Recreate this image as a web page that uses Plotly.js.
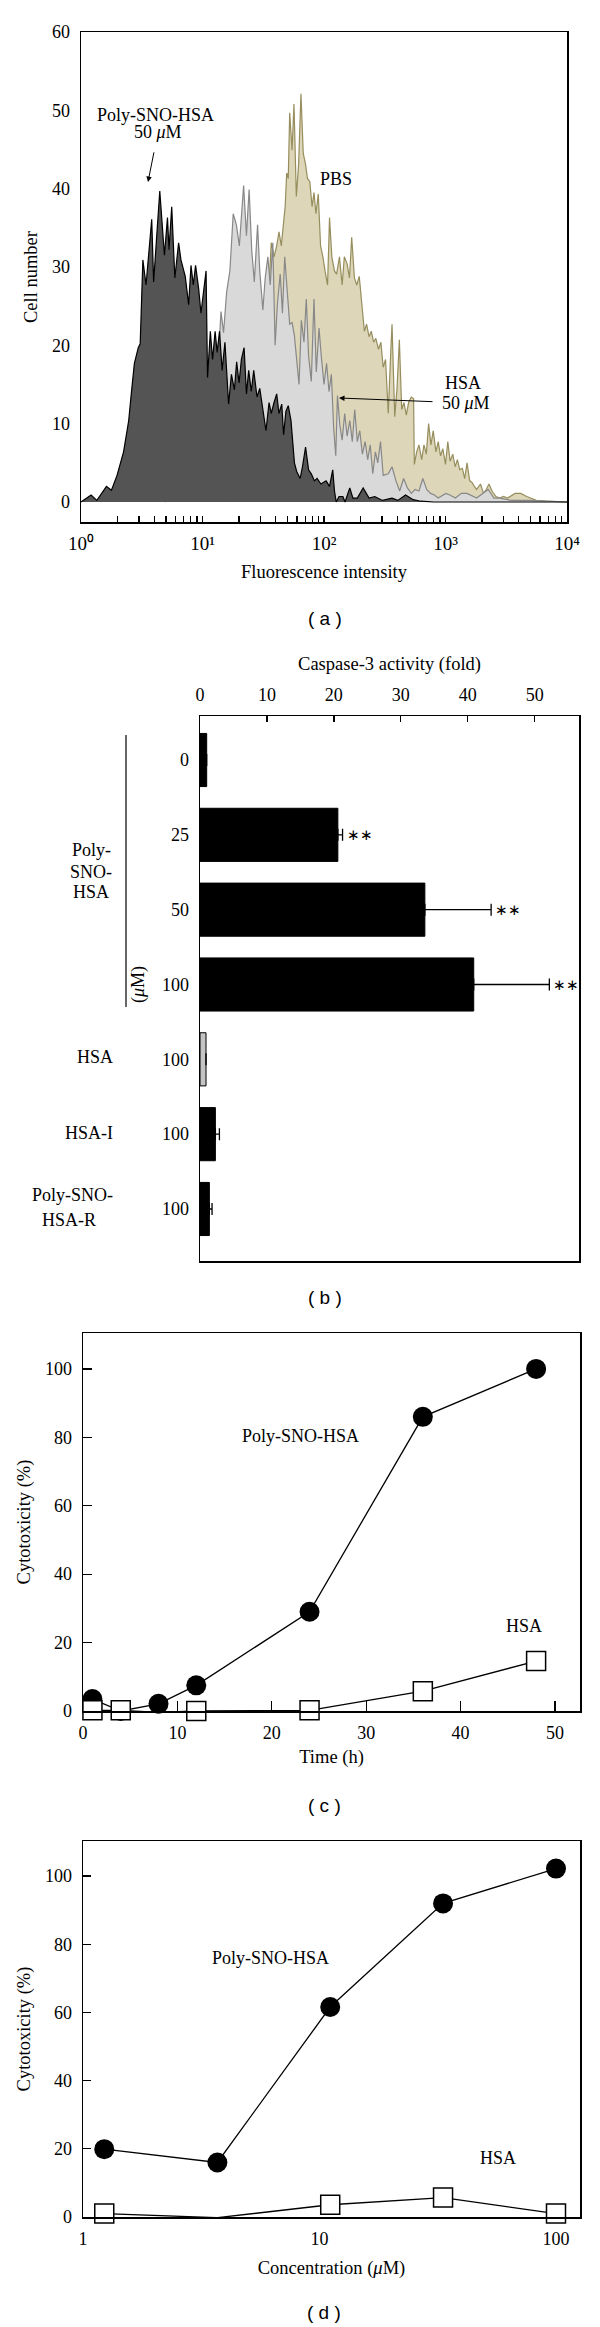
<!DOCTYPE html>
<html><head><meta charset="utf-8">
<script src="https://cdn.plot.ly/plotly-3.0.1.min.js"></script>
<style>html,body{margin:0;padding:0;background:#fff}</style>
</head><body>
<div id="chart" style="width:600px;height:2327px"></div>
<script>
// ---------- Panel (a): flow cytometry histograms ----------
const polyX = [
1.0, 1.21, 1.35, 1.62, 1.78, 1.98, 2.24, 2.47, 2.60, 2.75,
2.96, 3.07, 3.23, 3.43, 3.82, 3.96, 4.45, 4.86, 5.15, 5.30,
5.58, 5.92, 6.36, 6.65, 7.21, 7.69, 8.04, 8.40, 8.77, 9.30,
9.71, 10.7, 11.0, 11.6, 12.1, 12.7, 13.2, 13.8, 14.5, 15.3,
16.4, 17.3, 18.3, 19.1, 20.0, 20.9, 22.0, 23.0, 24.0, 25.2,
26.4, 28.1, 29.6, 31.6, 33.3, 35.3, 36.8, 38.8, 40.8, 42.6,
44.9, 46.5, 48.6, 50.8, 53.5, 57.1, 59.6, 63.6, 66.5, 70.5,
74.7, 78.6, 83.3, 87.7, 94.3, 104, 111, 118, 122, 126,
133, 143, 149, 163, 173, 188, 210, 235, 262, 303,
363, 405, 469, 542, 627, 800, 10000];
const polyY = [
0, 0.9, 0.2, 2, 1.5, 3.4, 6.4, 10.4, 14, 17.7,
19.7, 20.2, 30.9, 27.7, 36.1, 28.1, 39.7, 31.5, 36.3, 32.2,
37.7, 28.6, 33.1, 30.9, 28.8, 25.2, 30.2, 27.7, 30.2, 27.2,
24.1, 29.5, 15.9, 21.8, 18.2, 21.8, 19.1, 21.8, 16.8, 20.4,
12.5, 16.3, 14.3, 17.9, 15.2, 18.2, 19.7, 13.8, 16.8, 14.1,
16.8, 13.4, 14.5, 11.8, 9.1, 12.7, 11.3, 12.7, 13.8, 11.3,
12.5, 8.6, 11.6, 12.3, 10.4, 5, 3.9, 3, 4.5, 7,
4.1, 3.6, 2.7, 3, 2.3, 2.7, 2, 4.1, 1.4, 0,
0.7, 0.7, 0, 1.8, 0.5, 0.5, 1.8, 0.5, 0.7, 0.2,
0.5, 0.2, 0.9, 0.3, 0.1, 0, 0];

const hsaX = [
4.93, 8.22, 12.3, 13.7, 14.2, 14.9, 15.8, 16.8, 17.9, 19.0,
20.1, 20.9, 21.8, 23.0, 24.2, 25.4, 26.7, 28.4, 29.6, 31.4,
32.8, 34.5, 36.1, 37.9, 39.6, 41.4, 43.6, 45.5, 47.5, 50.0,
52.2, 54.6, 57.0, 59.2, 62.3, 65.1, 68.4, 71.5, 74.7, 78.6,
82.7, 86.4, 91.0, 95.0, 100, 105, 110, 115, 120, 125,
129, 135, 141, 148, 155, 163, 171, 179, 188, 197,
207, 218, 229, 240, 252, 265, 277, 292, 307, 338,
363, 391, 420, 452, 486, 523, 562, 605, 651, 700,
753, 810, 871, 1007, 1084, 1209, 1349, 1504, 1803, 2244,
2504, 2793, 3475, 5003, 6693, 10000];
const hsaY = [
0, 3, 12, 20, 24.3, 21.6, 26.8, 29.5, 36.8, 35.4,
32.7, 36.3, 40.4, 34, 39.9, 32.2, 28.1, 35.4, 29.5, 24.5,
28.6, 31.3, 27.7, 33.1, 20, 25.4, 29.1, 24.1, 31.3, 26.6,
22.7, 22.9, 21.3, 18.6, 15, 23.2, 20.4, 25.9, 18.6, 15.4,
25.9, 16.6, 22.2, 18.6, 15, 17.7, 14.1, 16.3, 9.5, 5.9,
13.6, 9.8, 7.9, 11.3, 8.4, 10.4, 7.7, 11.8, 7.7, 9.1,
6.1, 7.7, 5.4, 7.3, 3.6, 6.4, 5, 7.7, 3.4, 3.6,
4.5, 2.7, 1.4, 3, 1.8, 1.1, 1.6, 1.4, 3, 1.6,
1.1, 0.9, 0.5, 1.1, 0.9, 0.5, 1.1, 1.1, 0.5, 1.6,
0.5, 0.5, 0.2, 0.2, 0.1, 0];

const pbsX = [
17.0, 24.5, 30.5, 35.3, 36.8, 38.8, 40.8, 42.6, 44.5, 46.2,
47.9, 49.3, 50.8, 52.2, 54.6, 56.6, 59.2, 61.8, 64.6, 67.5,
70.5, 73.1, 76.4, 79.8, 82.7, 85.8, 89.7, 93.7, 97.9, 102,
107, 111, 116, 122, 127, 134, 141, 147, 155, 162,
169, 178, 186, 195, 204, 215, 224, 235, 245, 256,
267, 281, 294, 307, 321, 338, 353, 363, 382, 399,
417, 436, 455, 476, 497, 523, 546, 554, 579, 605,
637, 665, 695, 726, 759, 793, 834, 871, 910, 951,
1000, 1045, 1091, 1148, 1200, 1254, 1310, 1377, 1439, 1504,
1582, 1653, 1727, 1803, 1941, 2056, 2164, 2278, 2415, 2600,
2793, 3006, 3228, 3741, 4171, 4653, 5585, 6693, 10000];
const pbsY = [
0, 8, 20, 27.7, 33.1, 31.3, 32.7, 34.5, 32.7, 35,
37.7, 42, 41.3, 49.7, 44.9, 50.8, 39, 43.1, 52.1, 44.5,
43.1, 41.3, 40.9, 37.7, 39.5, 36.8, 39.3, 32.7, 31.3, 29.5,
27.7, 36.3, 31.3, 29.5, 29.1, 31.3, 27.7, 31.3, 30.4, 28.6,
33.8, 28.6, 27.7, 28.8, 25.9, 21.8, 22.7, 21.1, 21.8, 20.4,
20.9, 19.5, 20.4, 17.2, 18.2, 11.3, 18.6, 22.7, 10.9, 14.5,
20.7, 11.8, 12.7, 11.1, 12.7, 13.4, 13.2, 4.8, 6.4, 7.3,
5.4, 7.3, 6.1, 10, 7.3, 9.1, 6.4, 7.7, 5.9, 6.8,
4.8, 7.7, 5.2, 6.1, 4.5, 5.4, 4.1, 4.3, 3, 5,
2.7, 2.5, 2, 1.6, 2.3, 1.1, 1.6, 2.3, 1.4, 0.7,
0.5, 0.7, 0.5, 1.1, 1.1, 0.7, 0.2, 0.1, 0];

const aTickVals = [1, 10, 100, 1000, 10000];
const aTickText = ['10⁰', '10¹', '10²', '10³', '10⁴'];
const aMinorVals = [2,3,4,5,6,7,8,9, 20,30,40,50,60,70,80,90, 200,300,400,500,600,700,800,900, 2000,3000,4000,5000,6000,7000,8000,9000];

// ---------- Panel (b): caspase-3 activity ----------
const bGroups = ['Poly-SNO-HSA', 'Poly-SNO-HSA', 'Poly-SNO-HSA', 'Poly-SNO-HSA', 'HSA', 'HSA-I', 'Poly-SNO-HSA-R'];
const bConc = ['0', '25', '50', '100', '100', '100', '100'];
const bFold = [1.0, 20.6, 33.6, 40.9, 0.9, 2.3, 1.4];
const bErr = [null, 0.7, 9.9, 11.3, null, 0.6, 0.4];
const bSig = ['', '**', '**', '**', '', '', ''];

// ---------- Panel (c): cytotoxicity vs time ----------
const cTime = [1, 4, 8, 12, 24, 36, 48];
const cPoly = [3.5, 0, 2.1, 7.5, 29, 86, 100];
const cHsa = [0.2, 0.2, -0.4, 0, 0.2, 5.8, 14.6];

// ---------- Panel (d): cytotoxicity vs concentration ----------
const dConc = [1.23, 3.7, 11.1, 33.3, 100];
const dPoly = [19.9, 16.0, 61.6, 92, 102.2];
const dHsa = [1.0, -0.2, 3.6, 5.7, 1.0];

// ---------- styling helpers ----------
const SERIF = 'Liberation Serif, Times New Roman, serif';
const SANS = 'Liberation Sans, Arial, sans-serif';
const H = 2327, W = 600;
const px = v => v / W;
const py = v => 1 - v / H;

const bIds = bGroups.map((g, i) => g + ' ' + bConc[i]);
const bColors = bGroups.map(g => g === 'HSA' ? '#c4c4c4' : '#000000');

const traces = [
  {x: pbsX, y: pbsY, xaxis: 'x', yaxis: 'y', type: 'scatter', mode: 'lines', fill: 'tozeroy',
   fillcolor: '#ddd6b8', line: {color: '#978e5e', width: 1.2}, name: 'PBS'},
  {x: hsaX, y: hsaY, xaxis: 'x', yaxis: 'y', type: 'scatter', mode: 'lines', fill: 'tozeroy',
   fillcolor: '#d9d9d9', line: {color: '#888888', width: 1.2}, name: 'HSA 50 μM'},
  {x: polyX, y: polyY, xaxis: 'x', yaxis: 'y', type: 'scatter', mode: 'lines', fill: 'tozeroy',
   fillcolor: '#545454', line: {color: '#000000', width: 1.2}, name: 'Poly-SNO-HSA 50 μM'},
  {x: bFold, y: bIds, xaxis: 'x2', yaxis: 'y2', type: 'bar', orientation: 'h', width: 0.71,
   marker: {color: bColors, line: {color: '#000', width: 1}},
   error_x: {type: 'data', array: bErr, arrayminus: bErr.map(() => 0), symmetric: false,
             color: '#000', thickness: 1.3, width: 6}},
  {x: cTime, y: cPoly, xaxis: 'x3', yaxis: 'y3', type: 'scatter', mode: 'lines+markers', cliponaxis: false,
   line: {color: '#000', width: 1.3}, marker: {symbol: 'circle', size: 20, color: '#000'}, name: 'Poly-SNO-HSA'},
  {x: cTime, y: cHsa, xaxis: 'x3', yaxis: 'y3', type: 'scatter', mode: 'lines+markers', cliponaxis: false,
   line: {color: '#000', width: 1.3}, marker: {symbol: 'square', size: 19, color: '#fff', line: {color: '#000', width: 1.5}}, name: 'HSA'},
  {x: dConc, y: dPoly, xaxis: 'x4', yaxis: 'y4', type: 'scatter', mode: 'lines+markers', cliponaxis: false,
   line: {color: '#000', width: 1.3}, marker: {symbol: 'circle', size: 20, color: '#000'}, name: 'Poly-SNO-HSA'},
  {x: dConc, y: dHsa, xaxis: 'x4', yaxis: 'y4', type: 'scatter', mode: 'lines+markers', cliponaxis: false,
   line: {color: '#000', width: 1.3}, marker: {symbol: 'square', size: 19, color: '#fff', line: {color: '#000', width: 1.5}}, name: 'HSA'}
];

const axBase = {showline: true, linecolor: '#000', linewidth: 1.5, mirror: true, showgrid: false, zeroline: false,
  tickcolor: '#000', tickwidth: 1.3, tickfont: {family: SERIF, size: 18, color: '#000'}, fixedrange: true};
function ax(o) { return Object.assign({}, axBase, o); }
const tfont = {family: SERIF, size: 18.5, color: '#000'};

const layout = {
  width: W, height: H, margin: {l: 0, r: 0, t: 0, b: 0},
  paper_bgcolor: '#fff', plot_bgcolor: '#fff', showlegend: false,
  font: {family: SERIF, size: 18, color: '#000'},
  // panel a
  xaxis: ax({domain: [px(81), px(567)], anchor: 'y', type: 'log', range: [0, 4],
    tickmode: 'array', tickvals: aTickVals, ticktext: aTickText, ticks: 'inside', ticklen: 6,
    minor: {tickmode: 'array', tickvals: aMinorVals, ticks: 'inside', ticklen: 6, tickwidth: 1.3, tickcolor: '#000', showgrid: false},
    ticklabelstandoff: 4, tickfont: {family: SERIF, size: 19, color: '#000'},
    title: {text: 'Fluorescence intensity', font: tfont, standoff: 12}}),
  yaxis: ax({domain: [py(522), py(32)], anchor: 'x', range: [-2.553, 60], tickvals: [0,10,20,30,40,50,60], ticks: '',
    ticklabelstandoff: 6,
    title: {text: 'Cell number', font: tfont, standoff: 9}}),
  // panel b
  xaxis2: ax({domain: [px(200), px(579)], anchor: 'y2', side: 'top', range: [0, 56.63],
    tickvals: [0,10,20,30,40,50], ticks: 'inside', ticklen: 6, ticklabelstandoff: 6,
    title: {text: 'Caspase-3 activity (fold)', font: tfont, standoff: 10}}),
  yaxis2: ax({domain: [py(1261), py(716)], anchor: 'x2', type: 'category', categoryorder: 'array', categoryarray: bIds,
    range: [6.695, -0.588], tickmode: 'array', tickvals: bIds, ticktext: bConc, ticks: '', ticklabelstandoff: 6}),
  // panel c
  xaxis3: ax({domain: [px(83), px(580)], anchor: 'y3', range: [0, 52.65], tickvals: [0,10,20,30,40,50],
    ticks: 'inside', ticklen: 10, ticklabelstandoff: 5,
    title: {text: 'Time (h)', font: tfont, standoff: 8}}),
  yaxis3: ax({domain: [py(1711), py(1333)], anchor: 'x3', range: [0, 110.5], tickvals: [0,20,40,60,80,100],
    ticks: 'inside', ticklen: 9, ticklabelstandoff: 6,
    title: {text: 'Cytotoxicity (%)', font: tfont, standoff: 9}}),
  // panel d
  xaxis4: ax({domain: [px(83), px(580)], anchor: 'y4', type: 'log', range: [0, 2.1015], tickvals: [1,10,100],
    ticktext: ['1','10','100'], ticks: '', ticklabelstandoff: 5,
    title: {text: 'Concentration (<i>μ</i>M)', font: tfont, standoff: 13}}),
  yaxis4: ax({domain: [py(2217), py(1841)], anchor: 'x4', range: [0, 110.3], tickvals: [0,20,40,60,80,100],
    ticks: 'inside', ticklen: 8, ticklabelstandoff: 6,
    title: {text: 'Cytotoxicity (%)', font: tfont, standoff: 9}}),
  shapes: [
    {type: 'line', xref: 'paper', yref: 'paper', x0: px(126), x1: px(126), y0: py(735), y1: py(1007),
     line: {color: '#000', width: 1.2}}
  ],
  annotations: []
};

function note(text, x, y, opts) {
  layout.annotations.push(Object.assign({text: text, xref: 'paper', yref: 'paper', x: px(x), y: py(y),
    xanchor: 'center', yanchor: 'middle', showarrow: false, font: {family: SERIF, size: 18, color: '#000'}}, opts || {}));
}
// labelled arrow: text centred at (tx, ty), arrow head at (hx, hy)
function arrowNote(text, hx, hy, tx, ty, startGap) {
  layout.annotations.push({text: text, xref: 'paper', yref: 'paper', x: px(hx), y: py(hy),
    ax: tx - hx, ay: ty - hy, axref: 'pixel', ayref: 'pixel', showarrow: true,
    arrowhead: 2, arrowsize: 1.1, arrowwidth: 1, arrowcolor: '#000', startstandoff: startGap,
    font: {family: SERIF, size: 18, color: '#000'}});
}

// panel a labels
note('Poly-SNO-HSA', 155, 115);
arrowNote('50 <i>μ</i>M', 148, 182, 158, 132, 9);
note('PBS', 336, 179);
note('HSA', 463, 383);
arrowNote('50 <i>μ</i>M', 339, 398, 466, 403, 8);
note('( a )', 325, 619, {font: {family: SANS, size: 19, color: '#000'}});

// panel b labels
note('Poly-', 91, 850);
note('SNO-', 91, 872);
note('HSA', 91, 892);
note('(<i>μ</i>M)', 138, 985, {textangle: -90});
note('HSA', 115, 1057, {xanchor: 'right'});
note('HSA-I', 115, 1133, {xanchor: 'right'});
note('Poly-SNO-', 115, 1195, {xanchor: 'right'});
note('HSA-R', 69, 1220);
bSig.forEach((s, i) => {
  if (!s) return;
  layout.annotations.push({text: '∗∗', xref: 'x2', yref: 'y2', x: bFold[i] + bErr[i], y: bIds[i],
    xanchor: 'left', yanchor: 'middle', xshift: 2, showarrow: false, font: {family: SERIF, size: 15, color: '#000'}});
});
note('( b )', 325, 1297, {font: {family: SANS, size: 19, color: '#000'}});

// panel c labels
note('Poly-SNO-HSA', 300, 1436);
note('HSA', 524, 1626);
note('( c )', 324, 1805, {font: {family: SANS, size: 19, color: '#000'}});

// panel d labels
note('Poly-SNO-HSA', 270, 1958);
note('HSA', 498, 2158);
note('( d )', 324, 2312, {font: {family: SANS, size: 19, color: '#000'}});

Plotly.newPlot('chart', traces, layout, {staticPlot: true, displayModeBar: false});
</script>
</body></html>
